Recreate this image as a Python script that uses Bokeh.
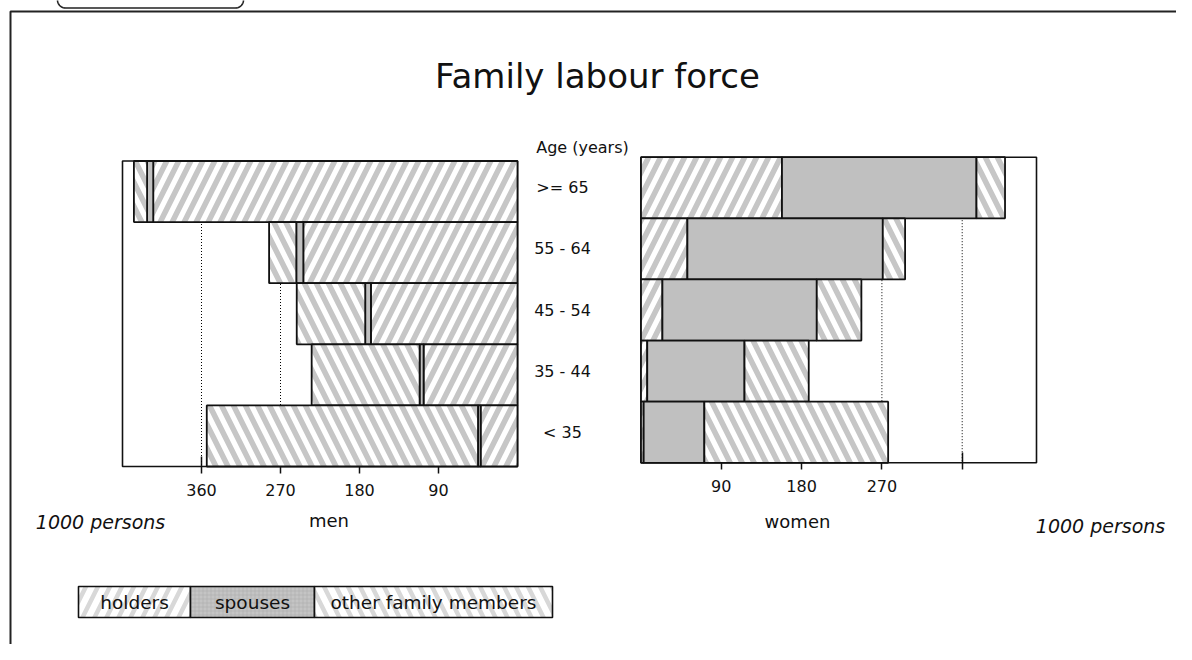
import numpy as np
from bokeh.plotting import figure
from bokeh.models import Range1d, LinearAxis, FixedTicker, ColumnDataSource
from bokeh.core.properties import value
from bokeh.embed import file_html
from bokeh.resources import INLINE

# ---------------- data (1000 persons) ----------------
ages = [">= 65", "55 - 64", "45 - 54", "35 - 44", "< 35"]
series_names = ["holders", "spouses", "other family members"]
men_holders = [415, 244, 167, 107, 42]
men_spouses = [7, 8, 6.5, 4.5, 3]
men_others = [15, 31, 78, 123, 309]
women_holders = [158, 52, 24, 7, 3]
women_spouses = [218, 219, 173, 109, 68]
women_others = [32, 25, 50, 72, 206]
tick_values = [90, 180, 270, 360]
women_hidden_tick_label = {360: ""}

# ---------------- layout (pixels inside the figure) ----------------
W, H = 1176, 644
MEN_L, MEN_R, MEN_T, MEN_B = 122.0, 517.0, 160.5, 466.0
WOM_L, WOM_R, WOM_T, WOM_B = 640.5, 1036.0, 156.7, 462.3
PX90_M, PX90_W = 79.0, 80.3
FONT_NAME = "DejaVu Sans"
FONT = value(FONT_NAME)
INK = "#111111"

p = figure(width=W, height=H, x_range=Range1d(0, W), y_range=Range1d(H, 0),
           x_axis_type=None, y_axis_type=None, toolbar_location=None,
           output_backend="svg", min_border=0, outline_line_color=None,
           background_fill_color="white", border_fill_color="white")

nrows = len(ages)
row_m = (MEN_B - MEN_T) / nrows
row_w = (WOM_B - WOM_T) / nrows
p.extra_x_ranges = {
    "men": Range1d(MEN_R * 90 / PX90_M, (MEN_R - W) * 90 / PX90_M),
    "women": Range1d(-WOM_L * 90 / PX90_W, (W - WOM_L) * 90 / PX90_W),
}
p.extra_y_ranges = {
    "men_y": Range1d((H - MEN_T) / row_m, -MEN_T / row_m),
    "women_y": Range1d((H - WOM_T) / row_w, -WOM_T / row_w),
}
xmax_m = (MEN_R - MEN_L) * 90 / PX90_M
xmax_w = (WOM_R - WOM_L) * 90 / PX90_W

rows_y = np.arange(nrows) + 0.5

hatch_col = "#c6c6c6"
styles = [
    dict(fill_color="white", hatch_pattern="/", hatch_color=hatch_col, hatch_weight=5.5, hatch_scale=24),
    dict(fill_color="#c0c0c0"),
    dict(fill_color="white", hatch_pattern="\\", hatch_color=hatch_col, hatch_weight=5.5, hatch_scale=24),
]


def panel(xr, yr, xmax, h, s, o):
    # dotted grid lines behind the bars
    p.segment(x0=tick_values, x1=tick_values, y0=[0] * len(tick_values), y1=[nrows] * len(tick_values),
              x_range_name=xr, y_range_name=yr, line_color="black", line_width=1, line_dash="1 2")
    # frame
    p.quad(left=[0], right=[xmax], top=[0], bottom=[nrows], x_range_name=xr, y_range_name=yr,
           fill_color=None, line_color=INK, line_width=1.6)
    h = np.array(h, float); s = np.array(s, float); o = np.array(o, float)
    lefts = [np.zeros(nrows), h, h + s]
    rights = [h, h + s, h + s + o]
    for lft, rgt, st in zip(lefts, rights, styles):
        src = ColumnDataSource(dict(y=rows_y, left=lft, right=rgt))
        p.hbar(y="y", left="left", right="right", height=1.0, source=src,
               x_range_name=xr, y_range_name=yr, line_color=INK, line_width=1.8, **st)


panel("men", "men_y", xmax_m, men_holders, men_spouses, men_others)
panel("women", "women_y", xmax_w, women_holders, women_spouses, women_others)


def make_axis(xr, loc, bounds, label, overrides, label_standoff):
    ax = LinearAxis(x_range_name=xr, fixed_location=loc, ticker=FixedTicker(ticks=tick_values),
                    bounds=bounds, axis_label=label, major_label_overrides=overrides)
    ax.level = "underlay"
    ax.axis_line_color = None
    ax.major_tick_line_color = INK
    ax.major_tick_line_width = 1.5
    ax.major_tick_in = 10
    ax.major_tick_out = 7
    ax.minor_tick_line_color = None
    ax.major_label_text_font = FONT_NAME
    ax.major_label_text_font_size = "16px"
    ax.major_label_text_color = INK
    ax.major_label_standoff = 10
    ax.axis_label_text_font = FONT_NAME
    ax.axis_label_text_font_size = "18px"
    ax.axis_label_text_font_style = "normal"
    ax.axis_label_text_color = INK
    ax.axis_label_standoff = label_standoff
    p.add_layout(ax, "below")


make_axis("men", MEN_B, (0, 430), "men", {}, 11)
make_axis("women", WOM_B, (-10, 360), "women", women_hidden_tick_label, 16)

# age labels between the panels
p.text(x=[562] * nrows, y=rows_y, text=ages, y_range_name="women_y",
       text_font=FONT, text_font_size="16px", text_align="center", text_baseline="middle",
       text_color=INK)
p.text(x=[582], y=[147], text=["Age (years)"], text_font=FONT, text_font_size="16px",
       text_align="center", text_baseline="middle", text_color=INK)

# title
p.text(x=[597], y=[75], text=["Family labour force"], text_font=FONT, text_font_size="34px",
       text_align="center", text_baseline="middle", text_color=INK)

# unit notes
p.text(x=[100, 1100], y=[521, 525], text=["1000 persons", "1000 persons"], text_font=FONT,
       text_font_size="19px", text_font_style="italic", text_align="center",
       text_baseline="middle", text_color=INK)

# outer frame and the tab above it
p.line(x=[10, 10, W + 20], y=[H + 20, 11, 11], line_color="#222222", line_width=2)
th = np.linspace(np.pi, np.pi / 2, 12)
th2 = np.linspace(np.pi / 2, 0, 12)
tab_x = np.concatenate([[57], 65 + 8 * np.cos(th), 235 + 8 * np.cos(th2), [243]])
tab_y = np.concatenate([[-5], -0.5 + 8 * np.sin(th), -0.5 + 8 * np.sin(th2), [-5]])
p.line(x=tab_x, y=tab_y, line_color="#222222", line_width=1.6)

# legend row
leg_edges = [78, 190, 314, 552]
leg_top, leg_bot = 586, 617
leg_styles = [
    dict(fill_color="white", hatch_pattern="/", hatch_color="#d8d8d8", hatch_weight=4.5, hatch_scale=24),
    dict(fill_color="#c4c4c4", hatch_pattern="+", hatch_color="#a9a9a9", hatch_weight=0.6, hatch_scale=4),
    dict(fill_color="white", hatch_pattern="\\", hatch_color="#d8d8d8", hatch_weight=4.5, hatch_scale=24),
]
for i, st in enumerate(leg_styles):
    p.quad(left=[leg_edges[i]], right=[leg_edges[i + 1]], top=[leg_top], bottom=[leg_bot],
           line_color=INK, line_width=1.6, **st)
p.text(x=[(leg_edges[i] + leg_edges[i + 1]) / 2 for i in range(3)], y=[(leg_top + leg_bot) / 2] * 3,
       text=series_names, text_font=FONT, text_font_size="18.5px", text_align="center",
       text_baseline="middle", text_color=INK)

open("out.html", "w").write(file_html(p, INLINE))
